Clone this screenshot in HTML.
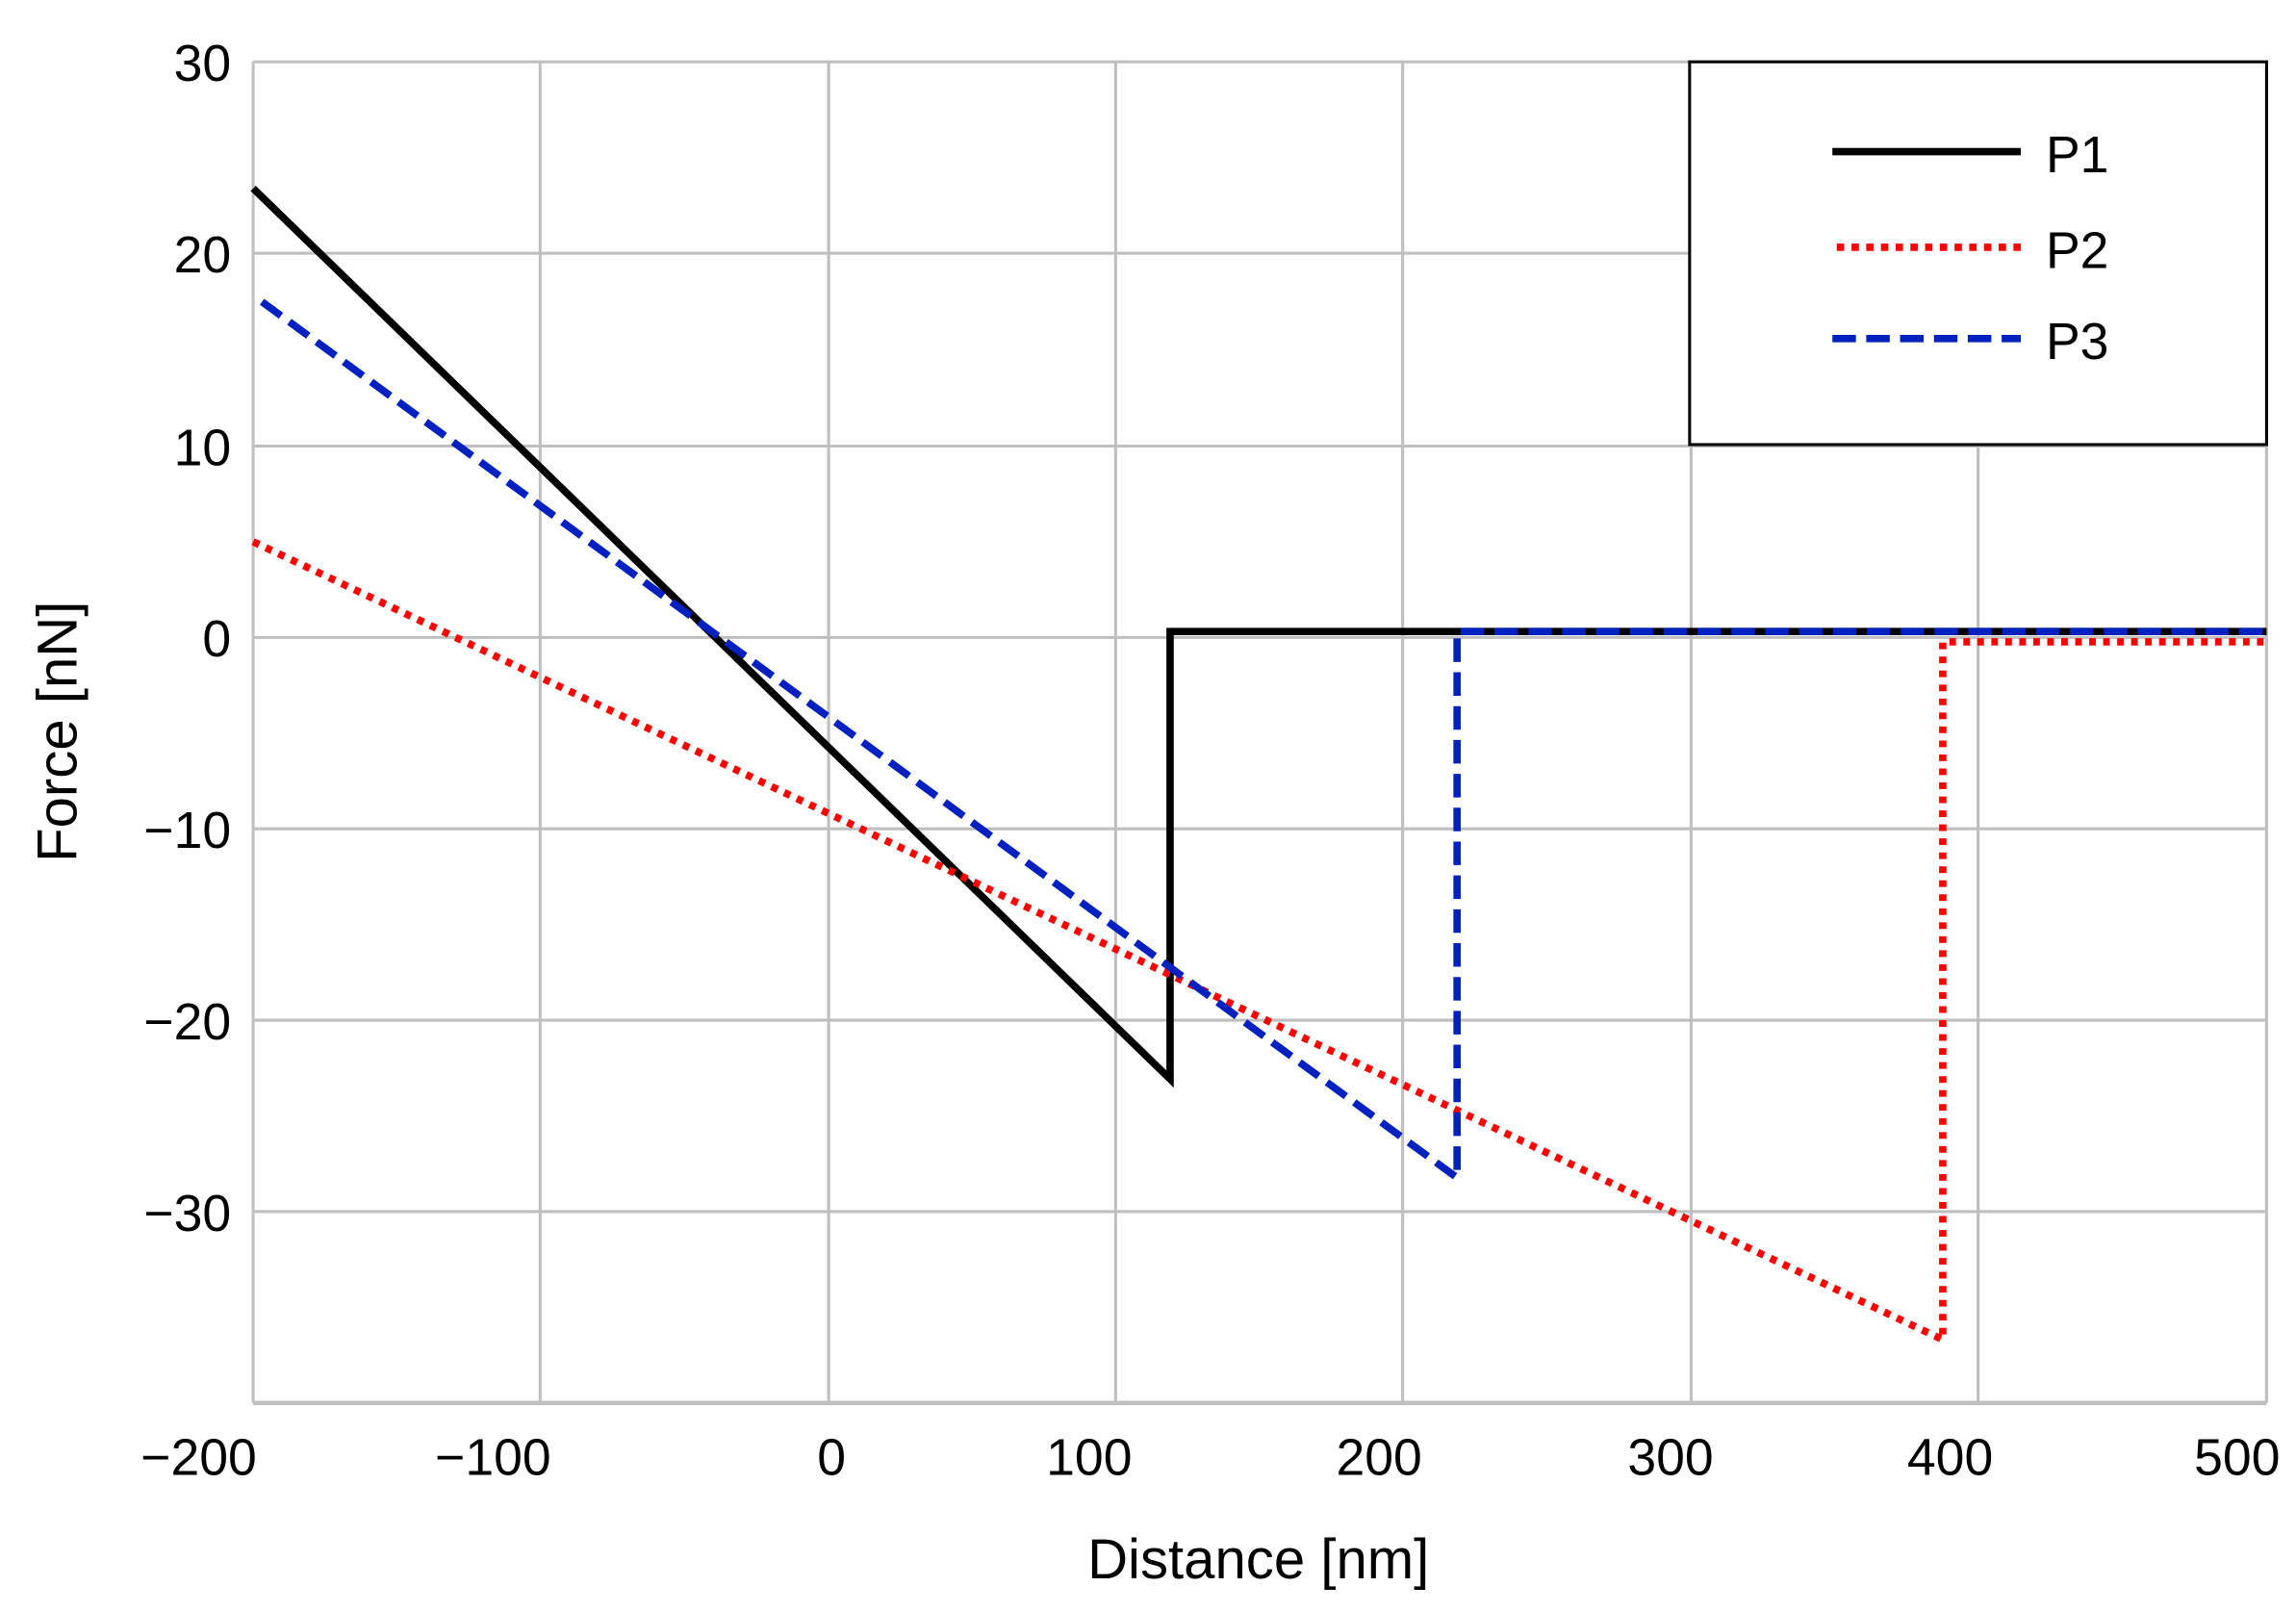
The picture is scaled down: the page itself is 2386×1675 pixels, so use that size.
<!DOCTYPE html>
<html><head><style>html,body{margin:0;padding:0;background:#fff}svg{display:block}</style></head>
<body>
<svg width="2386" height="1675" viewBox="0 0 1560 1095" preserveAspectRatio="none" xmlns="http://www.w3.org/2000/svg" font-family="Liberation Sans Narrow, Liberation Sans, sans-serif" fill="#000">
<g stroke="#bfbfbf" stroke-width="2">
<line x1="172" y1="42" x2="1540" y2="42"/>
<line x1="172" y1="172" x2="1540" y2="172"/>
<line x1="172" y1="303" x2="1540" y2="303"/>
<line x1="172" y1="433" x2="1540" y2="433"/>
<line x1="172" y1="563" x2="1540" y2="563"/>
<line x1="172" y1="693" x2="1540" y2="693"/>
<line x1="172" y1="823" x2="1540" y2="823"/>
<line x1="172" y1="953" x2="1540" y2="953" stroke-width="3"/>
<line x1="172" y1="42" x2="172" y2="953"/>
<line x1="367" y1="42" x2="367" y2="953"/>
<line x1="563" y1="42" x2="563" y2="953"/>
<line x1="758" y1="42" x2="758" y2="953"/>
<line x1="953" y1="42" x2="953" y2="953"/>
<line x1="1149" y1="42" x2="1149" y2="953"/>
<line x1="1344" y1="42" x2="1344" y2="953"/>
<line x1="1540" y1="42" x2="1540" y2="953"/>
</g>
<rect x="1148" y="42" width="392" height="260" fill="#fff" stroke="#000" stroke-width="2"/>
<line x1="1245" y1="103" x2="1373" y2="103" stroke="#000" stroke-width="5"/>
<line x1="1248" y1="168" x2="1373" y2="168" stroke="#ff0000" stroke-width="5" stroke-dasharray="5 5"/>
<line x1="1245" y1="230" x2="1373" y2="230" stroke="#0020c0" stroke-width="5" stroke-dasharray="16 7"/>
<g font-size="35">
<text x="1390" y="117">P1</text>
<text x="1390" y="182">P2</text>
<text x="1390" y="244">P3</text>
</g>
<polyline points="172,128 795,733 795,429 1540,429" fill="none" stroke="#000" stroke-width="5"/>
<polyline points="172,368 1320,910 1320,436 1540,436" fill="none" stroke="#ff0000" stroke-width="5" stroke-dasharray="4.5 5"/>
<polyline points="178,205 990,800 990,429 1540,429" fill="none" stroke="#0020c0" stroke-width="5" stroke-dasharray="16 7"/>
<g font-size="35" text-anchor="end">
<text x="157" y="55">30</text>
<text x="157" y="185">20</text>
<text x="157" y="316">10</text>
<text x="157" y="446">0</text>
<text x="157" y="576">−10</text>
<text x="157" y="706">−20</text>
<text x="157" y="836">−30</text>
</g>
<g font-size="35" text-anchor="middle">
<text x="135" y="1002">−200</text>
<text x="335" y="1002">−100</text>
<text x="565" y="1002">0</text>
<text x="740" y="1002">100</text>
<text x="937" y="1002">200</text>
<text x="1135" y="1002">300</text>
<text x="1325" y="1002">400</text>
<text x="1520" y="1002">500</text>
<text x="855" y="1072" font-size="38">Distance [nm]</text>
<text transform="translate(52,497) rotate(-90)" font-size="38">Force [nN]</text>
</g>
</svg>
</body></html>
